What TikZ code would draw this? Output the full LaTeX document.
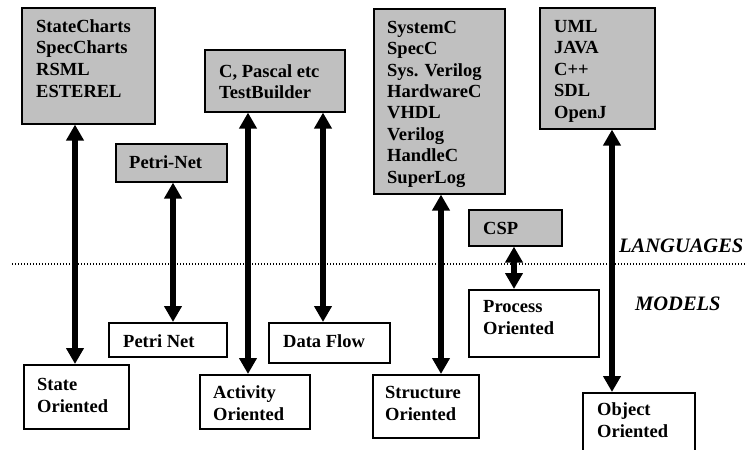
\documentclass[tikz,border=0pt]{standalone}
\usepackage{fontspec}
\setmainfont{Liberation Serif}
\usetikzlibrary{arrows.meta}
\definecolor{boxgray}{HTML}{C0C0C0}
\tikzset{
  box/.style={draw=black, line width=1.6pt, anchor=north west, inner sep=0pt},
  lang/.style={box, fill=boxgray},
  model/.style={box, fill=white},
  txt/.style={anchor=base west, inner sep=0pt, align=left, font=\fontsize{18.5}{21.6}\selectfont\bfseries},
  layertxt/.style={anchor=base west, inner sep=0pt, font=\fontsize{20.5}{24}\selectfont\bfseries\itshape},
  biarrow/.style={line width=6pt, {Triangle[width=17pt,length=16pt]}-{Triangle[width=17pt,length=16pt]}},
  dotline/.style={line width=1.1pt, dash pattern=on 1.1pt off 1.9pt}
}
\begin{document}
\begin{tikzpicture}[x=1pt,y=-1pt]
\useasboundingbox (0,0) rectangle (745,450);
\clip (0,0) rectangle (745,450);
% separator
\coordinate (d1) at (12,264);
\coordinate (d2) at (745,264);
\draw[dotline] (d1) -- (d2);
% language boxes
\node[lang, minimum width=133pt, minimum height=116pt] (sc) at (21,7) {};
\node[lang, minimum width=111pt, minimum height=38pt] (pn) at (115,143) {};
\node[lang, minimum width=140pt, minimum height=62pt] (cp) at (204,49) {};
\node[lang, minimum width=131pt, minimum height=185pt] (st) at (373,8) {};
\node[lang, minimum width=115pt, minimum height=121pt] (uml) at (539,7) {};
\node[lang, minimum width=93pt, minimum height=36pt] (csp) at (468,209) {};
% model boxes
\node[model, minimum width=105pt, minimum height=64pt] (so) at (23,364) {};
\node[model, minimum width=118pt, minimum height=34pt] (pnm) at (108,322) {};
\node[model, minimum width=110pt, minimum height=54pt] (ao) at (199,374) {};
\node[model, minimum width=121pt, minimum height=40pt] (df) at (268,322) {};
\node[model, minimum width=106pt, minimum height=63pt] (sto) at (372,374) {};
\node[model, minimum width=130pt, minimum height=67pt] (po) at (468,289) {};
\node[model, minimum width=112pt, minimum height=70pt] (oo) at (582,392) {};
% texts (base anchor = baseline of the last line)
\node[txt, font=\fontsize{18.5}{21.8}\selectfont\bfseries] (tsc) at (36,97.5) {StateCharts\\SpecCharts\\RSML\\ESTEREL};
\node[txt] (tpn) at (129,168) {Petri-Net};
\node[txt, font=\fontsize{18.5}{21}\selectfont\bfseries] (tcp) at (219,98) {C, Pascal etc\\TestBuilder};
\node[txt, font=\fontsize{18.5}{21.4}\selectfont\bfseries] (tst) at (387,183) {SystemC\\SpecC\\Sys. Verilog\\HardwareC\\VHDL\\Verilog\\HandleC\\SuperLog};
\node[txt, font=\fontsize{18.5}{21.5}\selectfont\bfseries] (tuml) at (554,118) {UML\\JAVA\\C++\\SDL\\OpenJ};
\node[txt] (tcsp) at (483,234) {CSP};
\node[txt, font=\fontsize{18.5}{22}\selectfont\bfseries] (tso) at (37,412) {State\\Oriented};
\node[txt] (tpnm) at (123,347) {Petri Net};
\node[txt, font=\fontsize{18.5}{22}\selectfont\bfseries] (tao) at (213,420) {Activity\\Oriented};
\node[txt] (tdf) at (283,347) {Data Flow};
\node[txt, font=\fontsize{18.5}{22}\selectfont\bfseries] (tsto) at (385,420) {Structure\\Oriented};
\node[txt] (tpo) at (483,334.5) {Process\\Oriented};
\node[txt] (too) at (597,437.5) {Object\\Oriented};
\node[layertxt] (lang) at (619,252) {LANGUAGES};
\node[layertxt] (mod) at (635,310) {MODELS};
% arrows
\coordinate (a1) at (75,0);
\coordinate (a2) at (173,0);
\coordinate (a3) at (248,0);
\coordinate (a4) at (323,0);
\coordinate (a5) at (441,0);
\coordinate (a6) at (514,0);
\coordinate (a7) at (612,0);
\draw[biarrow] (sc.south -| a1) -- (so.north -| a1);
\draw[biarrow] (pn.south -| a2) -- (pnm.north -| a2);
\draw[biarrow] (cp.south -| a3) -- (ao.north -| a3);
\draw[biarrow] (cp.south -| a4) -- (df.north -| a4);
\draw[biarrow] (st.south -| a5) -- (sto.north -| a5);
\draw[biarrow] (csp.south -| a6) -- (po.north -| a6);
\draw[biarrow] (uml.south -| a7) -- (oo.north -| a7);
\end{tikzpicture}
\end{document}
